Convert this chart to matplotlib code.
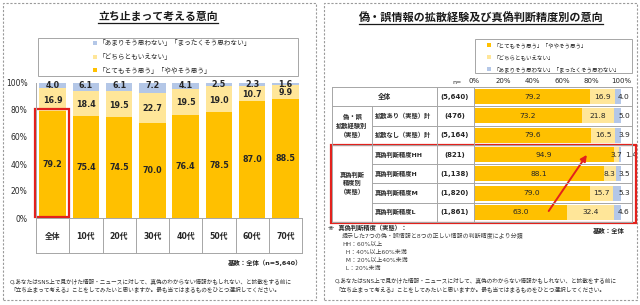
import matplotlib
matplotlib.use("Agg")
import matplotlib.pyplot as plt
import numpy as np
from matplotlib.patches import Rectangle
from matplotlib.lines import Line2D
from matplotlib.transforms import blended_transform_factory as blend

plt.rcParams['font.family'] = ['DejaVu Sans', 'Noto Sans CJK JP']

# ---- data: left chart (by age) ----
age_cats = ['全体', '10代', '20代', '30代', '40代', '50代', '60代', '70代']
age_agree = [79.2, 75.4, 74.5, 70.0, 76.4, 78.5, 87.0, 88.5]
age_neutral = [16.9, 18.4, 19.5, 22.7, 19.5, 19.0, 10.7, 9.9]
age_disagree = [4.0, 6.1, 6.1, 7.2, 4.1, 2.5, 2.3, 1.6]

# ---- data: right chart (by experience / accuracy) ----
grp_rows = ['全体', '拡散あり（実態）計', '拡散なし（実態）計', '真偽判断精度HH',
            '真偽判断精度H', '真偽判断精度M', '真偽判断精度L']
grp_n = ['(5,640)', '(476)', '(5,164)', '(821)', '(1,138)', '(1,820)', '(1,861)']
grp_agree = [79.2, 73.2, 79.6, 94.9, 88.1, 79.0, 63.0]
grp_neutral = [16.9, 21.8, 16.5, 3.7, 8.3, 15.7, 32.4]
grp_disagree = [4.0, 5.0, 3.9, 1.4, 3.5, 5.3, 4.6]
grp_headers = ['偽・誤\n拡散経験別\n（実態）', '真偽判断\n精度別\n（実態）']

lbl_agree = '「とてもそう思う」「ややそう思う」'
lbl_neutral = '「どちらともいえない」'
lbl_disagree = '「あまりそう思わない」「まったくそう思わない」'

ORANGE = '#FFC000'
YELLOW = '#FFE699'
BLUE = '#B4C7E7'
RED = '#E3211C'
LINE = '#A6A6A6'
TXT = '#262626'

W, H = 640, 305


def fx(px):
    return px / W


def fy(py):
    return 1 - py / H


fig = plt.figure(figsize=(6.4, 3.05), dpi=100)


def fline(x0, y0, x1, y1, trans=None, **kw):
    kw.setdefault('color', LINE)
    kw.setdefault('lw', 0.7)
    fig.add_artist(Line2D([x0, x1], [y0, y1], transform=trans or fig.transFigure, **kw))


def legend_box(x0, x1, y0, y1, items, mx, size):
    fig.add_artist(Rectangle((fx(x0), fy(y1)), (x1 - x0) / W, (y1 - y0) / H,
                             transform=fig.transFigure, fill=False, ec=LINE, lw=0.7))
    for yy, col, lab in items:
        fig.add_artist(Rectangle((fx(mx - 2), fy(yy + 2)), 4 / W, 4 / H,
                                 transform=fig.transFigure, color=col, lw=0))
        fig.text(fx(mx + 4), fy(yy), lab, fontsize=size, va='center', ha='left', color=TXT)


def title(xc, yc, s, size):
    t = fig.text(fx(xc), fy(yc), s, fontsize=size, fontweight='bold', ha='center',
                 va='center', color='#1a1a1a')
    fig.canvas.draw()
    bb = t.get_window_extent().transformed(fig.transFigure.inverted())
    fline(bb.x0, bb.y0 - 0.004, bb.x1, bb.y0 - 0.004, color='#1a1a1a', lw=0.9)


# dashed panel frames
for x0, x1 in [(3, 316), (324, 637)]:
    fig.add_artist(Rectangle((fx(x0), fy(300)), (x1 - x0) / W, 297 / H,
                             transform=fig.transFigure, fill=False, ec='#9a9a9a',
                             lw=0.8, ls=(0, (2, 1.5))))

# ================= left panel =================
title(158, 17, '立ち止まって考える意向', 7.8)
legend_box(38, 298, 38, 76,
           [(43, BLUE, lbl_disagree), (57, YELLOW, lbl_neutral), (70, ORANGE, lbl_agree)],
           95, 4.8)

axL = fig.add_axes([fx(36), fy(218), (302 - 36) / W, (218 - 83) / H])
x = np.arange(len(age_cats))
a = np.array(age_agree)
n = np.array(age_neutral)
d = np.array(age_disagree)
axL.bar(x, a, width=0.8, color=ORANGE, lw=0)
axL.bar(x, n, bottom=a, width=0.8, color=YELLOW, lw=0)
axL.bar(x, d, bottom=a + n, width=0.8, color=BLUE, lw=0)
for i in range(len(x)):
    axL.text(i, a[i] / 2, f'{a[i]:.1f}', ha='center', va='center', fontsize=5.8,
             fontweight='bold', color=TXT)
    axL.text(i, a[i] + n[i] / 2 - 0.6, f'{n[i]:.1f}', ha='center', va='center', fontsize=5.8,
             fontweight='bold', color=TXT)
    axL.text(i, max(a[i] + n[i] + d[i] / 2, 98.3), f'{d[i]:.1f}', ha='center', va='center',
             fontsize=5.8, fontweight='bold', color=TXT)
axL.set_xlim(-0.5, len(x) - 0.5)
axL.set_ylim(0, 100)
axL.set_yticks(range(0, 101, 20))
axL.set_yticklabels([f'{v}%' for v in range(0, 101, 20)])
axL.set_xticks([])
axL.tick_params(axis='y', length=0, labelsize=5.5, pad=6, labelcolor=TXT)
for s in ['top', 'right', 'bottom']:
    axL.spines[s].set_visible(False)
axL.spines['left'].set_color(LINE)
axL.spines['left'].set_linewidth(0.7)

# highlight box around the total bar
axL.add_patch(Rectangle((-0.52, 0.5), 1.0, a[0] + 1.2, fill=False, ec=RED, lw=1.6,
                        clip_on=False))

# category table below the bars
tL = blend(axL.transData, fig.transFigure)
fline(-0.5, fy(218), len(x) - 0.5, fy(218), trans=tL)
fline(-0.5, fy(253), len(x) - 0.5, fy(253), trans=tL)
for k in range(len(x) + 1):
    fline(k - 0.5, fy(218), k - 0.5, fy(253), trans=tL)
for i, c in enumerate(age_cats):
    fig.text(i, fy(237), c, transform=tL, ha='center', va='center', fontsize=5.6,
             fontweight='bold', color=TXT)

fig.text(fx(302), fy(263), '基数：全体（n=5,640）', ha='right', va='center',
         fontsize=4.6, fontweight='bold', color=TXT)
q1 = 'Q.あなたはSNS上で見かけた情報・ニュースに対して、真偽のわからない情報かもしれない、と拡散をする前に'
q2 = '「立ち止まって考える」ことをしてみたいと思いますか。最も当てはまるものをひとつ選択してください。'
fig.text(fx(10), fy(281), q1, fontsize=4.1, va='center', color='#333333')
fig.text(fx(10), fy(289), q2, fontsize=4.1, va='center', color='#333333')

# ================= right panel =================
title(481, 17, '偽・誤情報の拡散経験及び真偽判断精度別の意向', 8.0)
legend_box(475, 632, 39, 73,
           [(45, ORANGE, lbl_agree), (57, YELLOW, lbl_neutral), (69, BLUE, lbl_disagree)],
           489, 4.0)

axR = fig.add_axes([fx(474), fy(222), (621 - 474) / W, (222 - 87) / H])
y = np.arange(len(grp_rows))
ga = np.array(grp_agree)
gn = np.array(grp_neutral)
gd = np.array(grp_disagree)
axR.barh(y, ga, height=0.78, color=ORANGE, lw=0)
axR.barh(y, gn, left=ga, height=0.78, color=YELLOW, lw=0)
axR.barh(y, gd, left=ga + gn, height=0.78, color=BLUE, lw=0)
for i in range(len(y)):
    axR.text(ga[i] / 2, i, f'{ga[i]:.1f}', ha='center', va='center', fontsize=5.4,
             color=TXT)
    axR.text(ga[i] + gn[i] / 2, i, f'{gn[i]:.1f}', ha='center', va='center', fontsize=5.4,
             color=TXT)
    xd = 107 if gn[i] < 5 else 102
    axR.text(xd, i, f'{gd[i]:.1f}', ha='center', va='center', fontsize=5.4, color=TXT,
             clip_on=False)
axR.set_xlim(0, 100)
axR.set_ylim(len(y) - 0.5, -0.5)
axR.set_yticks([])
axR.xaxis.tick_top()
axR.set_xticks(range(0, 101, 20))
axR.set_xticklabels([f'{v}%' for v in range(0, 101, 20)])
axR.tick_params(axis='x', length=0, labelsize=5, pad=2, labelcolor=TXT)
for s in axR.spines.values():
    s.set_visible(False)
fig.text(fx(457), fy(82), 'n=', ha='center', va='center', fontsize=4.5, color=TXT)

# table grid
tR = blend(fig.transFigure, axR.transData)
nr = len(y)
fline(fx(332), -0.5, fx(632), -0.5, trans=tR)
for b in np.arange(0.5, nr, 1.0):
    x_start = 332 if b in (0.5, 2.5) else 372
    fline(fx(x_start), b, fx(632), b, trans=tR)
fline(fx(332), nr - 0.5, fx(632), nr - 0.5, trans=tR)
fline(fx(332), -0.5, fx(332), nr - 0.5, trans=tR)
fline(fx(372), 0.5, fx(372), nr - 0.5, trans=tR)
for xv in (437, 474, 632):
    fline(fx(xv), -0.5, fx(xv), nr - 0.5, trans=tR)

fig.text(fx(384), 0, grp_rows[0], transform=tR, ha='center', va='center', fontsize=4.8,
         fontweight='bold', color=TXT)
for i in range(1, nr):
    fig.text(fx(375), i, grp_rows[i], transform=tR, ha='left', va='center', fontsize=4.5,
             fontweight='bold', color=TXT)
for i in range(nr):
    fig.text(fx(455), i, grp_n[i], transform=tR, ha='center', va='center', fontsize=5,
             fontweight='bold', color=TXT)
fig.text(fx(352), 1.5, grp_headers[0], transform=tR, ha='center', va='center',
         fontsize=4.5, fontweight='bold', color=TXT, linespacing=1.5)
fig.text(fx(352), 4.5, grp_headers[1], transform=tR, ha='center', va='center',
         fontsize=4.5, fontweight='bold', color=TXT, linespacing=1.5)

# highlight box and arrow
fig.add_artist(Rectangle((fx(331), 2.5), (636 - 331) / W, nr - 2.5 - 0.45,
                         transform=tR, fill=False, ec=RED, lw=1.6))
axR.annotate('', xy=(ga[3] * 0.82, 2.9), xytext=(ga[6] * 0.79, nr - 0.95),
             arrowprops=dict(arrowstyle='-|>', color=RED, lw=1.4, mutation_scale=9))

# footnotes
fig.text(fx(328), fy(228), '※  真偽判断精度（実態）：', fontsize=4.5, fontweight='bold',
         va='center', color=TXT)
fig.text(fx(625), fy(231), '基数：全体', fontsize=4.6, fontweight='bold', ha='right',
         va='center', color=TXT)
notes = ['提示した7つの偽・誤情報と8つの正しい情報の判断精度により分類',
         'HH：60%以上', '  H：40%以上60%未満', '  M：20%以上40%未満', '  L：20%未満']
for k, s in enumerate(notes):
    fig.text(fx(342), fy(236 + k * 8), s, fontsize=4.3, va='center', color='#404040')
fig.text(fx(335), fy(280), q1, fontsize=4.1, va='center', color='#333333')
fig.text(fx(335), fy(289), q2, fontsize=4.1, va='center', color='#333333')

fig.savefig('out.png', dpi=100)
